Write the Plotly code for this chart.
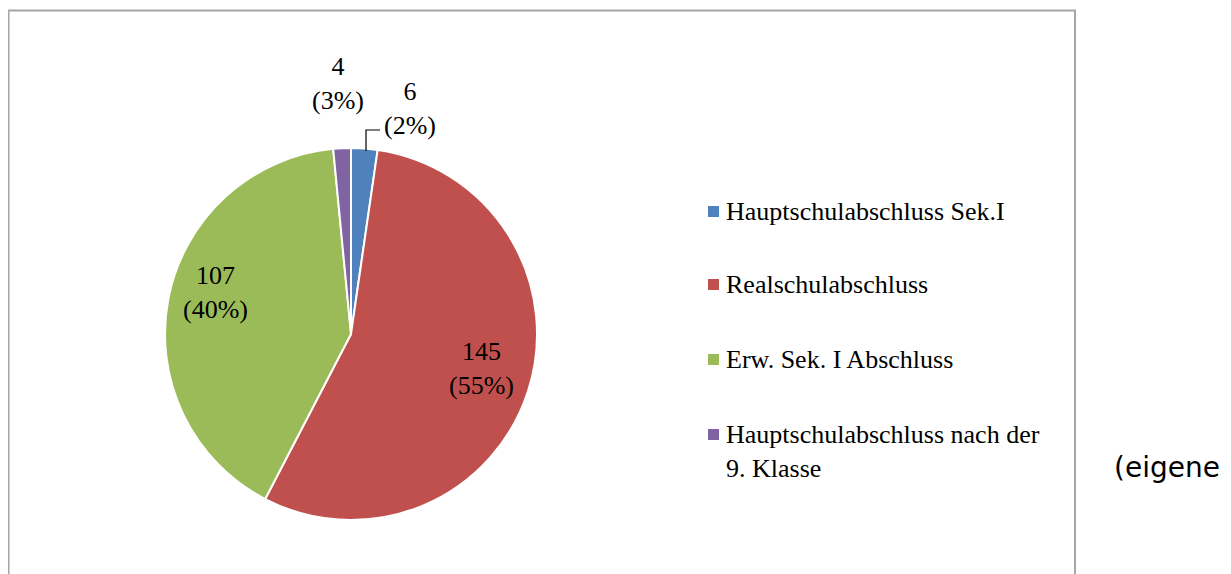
import plotly.graph_objects as go

categories = ["Hauptschulabschluss Sek.I", "Realschulabschluss",
              "Erw. Sek. I Abschluss", "Hauptschulabschluss nach der<br>9. Klasse"]
values = [6, 145, 107, 4]
percent_labels = ["2%", "55%", "40%", "3%"]
colors = ["#4F81BD", "#C0504D", "#9BBB59", "#8064A2"]

OFF = 8  # page body margin
W, H = 1231 - OFF, 574 - OFF
def px(x):
    return (x - OFF) / W
def py(y):
    return 1 - (y - OFF) / H

fig = go.Figure()
fig.add_trace(go.Pie(
    labels=categories, values=values, sort=False, direction="clockwise", rotation=0,
    marker=dict(colors=colors, line=dict(color="white", width=2)),
    textinfo="none", hoverinfo="label+value+percent", showlegend=False,
    domain=dict(x=[px(165), px(537)], y=[py(520), py(148)]),
))

serif = "Liberation Serif, Times New Roman, serif"
label_pos = [(410, 108), (481, 368), (215, 292), (338, 83)]
ann = []
for v, p, (x, y) in zip(values, percent_labels, label_pos):
    ann.append(dict(x=px(x), y=py(y), xref="paper", yref="paper",
                    text=f"{v}<br>({p})", showarrow=False,
                    font=dict(family=serif, size=26, color="black"),
                    xanchor="center", yanchor="middle", align="center"))

shapes = []
legend_y = [211, 284, 359, 434]
for cat, col, y in zip(categories, colors, legend_y):
    shapes.append(dict(type="rect", xref="paper", yref="paper",
                       x0=px(708), x1=px(719), y0=py(y + 6), y1=py(y - 5),
                       fillcolor=col, line=dict(width=0)))
    ann.append(dict(x=px(724), y=py(y - 16), xref="paper", yref="paper",
                    text=cat, showarrow=False, xanchor="left", yanchor="top", align="left",
                    font=dict(family=serif, size=26, color="black")))

# leader line for the small slice
shapes.append(dict(type="path", xref="paper", yref="paper",
                   path=f"M {px(366)} {py(151)} L {px(366)} {py(130)} L {px(380)} {py(130)}",
                   line=dict(color="black", width=1.2)))

# outer border
shapes.append(dict(type="rect", xref="paper", yref="paper",
                   x0=px(8.5), x1=px(1075), y0=py(620), y1=py(10.5),
                   line=dict(color="#a6a6a6", width=2)))

ann.append(dict(x=px(1112), y=py(467), xref="paper", yref="paper", text="(eigene",
                showarrow=False, xanchor="left", yanchor="middle",
                font=dict(family="DejaVu Sans, Verdana, sans-serif", size=28, color="black")))

fig.update_layout(width=W, height=H, margin=dict(l=0, r=0, t=0, b=0),
                  paper_bgcolor="white", plot_bgcolor="white",
                  annotations=ann, shapes=shapes)
fig.write_html("out.html")
